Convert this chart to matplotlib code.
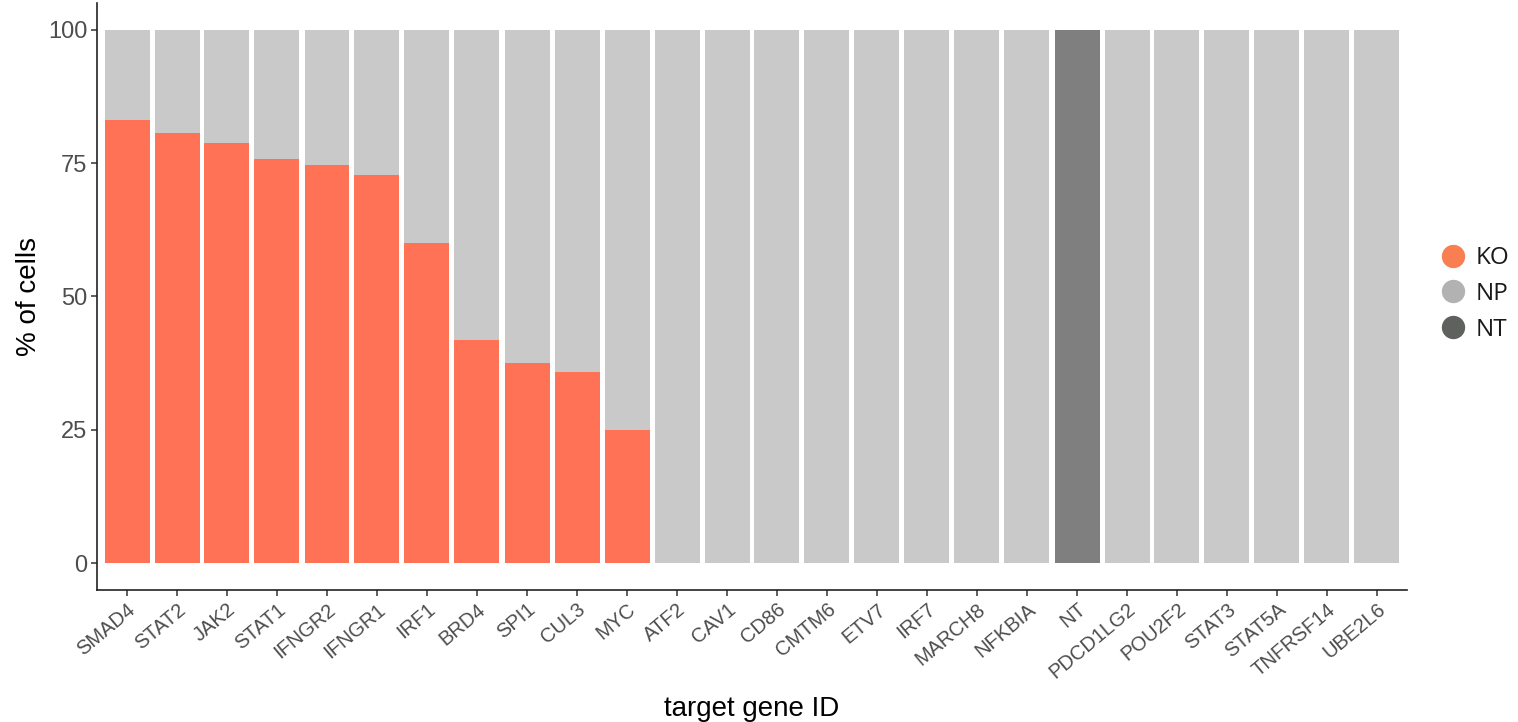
import matplotlib
matplotlib.use("Agg")
import matplotlib.pyplot as plt
from matplotlib.lines import Line2D
import matplotlib.transforms as mtransforms
import numpy as np

genes = ["SMAD4", "STAT2", "JAK2", "STAT1", "IFNGR2", "IFNGR1", "IRF1", "BRD4",
         "SPI1", "CUL3", "MYC", "ATF2", "CAV1", "CD86", "CMTM6", "ETV7", "IRF7",
         "MARCH8", "NFKBIA", "NT", "PDCD1LG2", "POU2F2", "STAT3", "STAT5A",
         "TNFRSF14", "UBE2L6"]
ko_pct = [83.0, 80.7, 78.8, 75.7, 74.7, 72.8, 60.1, 41.9, 37.6, 35.8, 24.9,
          0, 0, 0, 0, 0, 0, 0, 0, 0, 0, 0, 0, 0, 0, 0]
nt_pct = [0, 0, 0, 0, 0, 0, 0, 0, 0, 0, 0, 0, 0, 0, 0, 0, 0, 0, 0, 100,
          0, 0, 0, 0, 0, 0]
np_pct = [100 - k - n for k, n in zip(ko_pct, nt_pct)]

ko_color = "#FF7256"
np_color = "#C9C9C9"
nt_color = "#7F7F7F"

fig = plt.figure(figsize=(15.18, 7.22), dpi=100)
ax = fig.add_axes([97/1518, 1 - 590/722, (1407 - 97)/1518, (590 - 3)/722])

x = np.arange(1, len(genes) + 1)
ax.bar(x, ko_pct, width=0.9, color=ko_color, linewidth=0)
ax.bar(x, np_pct, width=0.9, bottom=ko_pct, color=np_color, linewidth=0)
ax.bar(x, nt_pct, width=0.9, bottom=np.array(ko_pct) + np.array(np_pct),
       color=nt_color, linewidth=0)

ax.set_xlim(0.4, len(genes) + 0.6)
ax.set_ylim(-5, 105)
ax.set_yticks([0, 25, 50, 75, 100])
ax.set_xticks(x)
ax.set_xticklabels(genes, rotation=40, ha="right", va="top",
                   rotation_mode="anchor", fontsize=14.5, color="#4D4D4D",
                   family="Liberation Sans")
offset = mtransforms.ScaledTranslation(2/100, -1/100, fig.dpi_scale_trans)
for lab in ax.get_xticklabels():
    lab.set_transform(lab.get_transform() + offset)
for lab in ax.get_yticklabels():
    lab.set_fontsize(17)
    lab.set_color("#4D4D4D")
    lab.set_family("Liberation Sans")

ax.tick_params(axis="both", length=4, width=1.1, color="#333333", pad=3)
for s in ["top", "right"]:
    ax.spines[s].set_visible(False)
for s in ["left", "bottom"]:
    ax.spines[s].set_linewidth(1.2)
    ax.spines[s].set_color("#222222")

ax.set_xlabel("target gene ID", fontsize=20, family="Liberation Sans", labelpad=10)
ax.set_ylabel("% of cells", fontsize=20, family="Liberation Sans", labelpad=4)

handles = [Line2D([], [], marker="o", linestyle="", markersize=15.8,
                  markerfacecolor=c, markeredgecolor=c)
           for c in ["#F97E52", "#B2B2B2", "#5F615F"]]
leg = fig.legend(handles, ["KO", "NP", "NT"], loc="center left",
                 bbox_to_anchor=(1429/1518, 1 - 294/722), frameon=False,
                 prop={"family": "Open Sans", "size": 17.5}, handletextpad=0.4,
                 labelspacing=0.48, handlelength=1.0, borderpad=0)
for t in leg.get_texts():
    t.set_color("#1A1A1A")

fig.savefig("out.png", dpi=100)
